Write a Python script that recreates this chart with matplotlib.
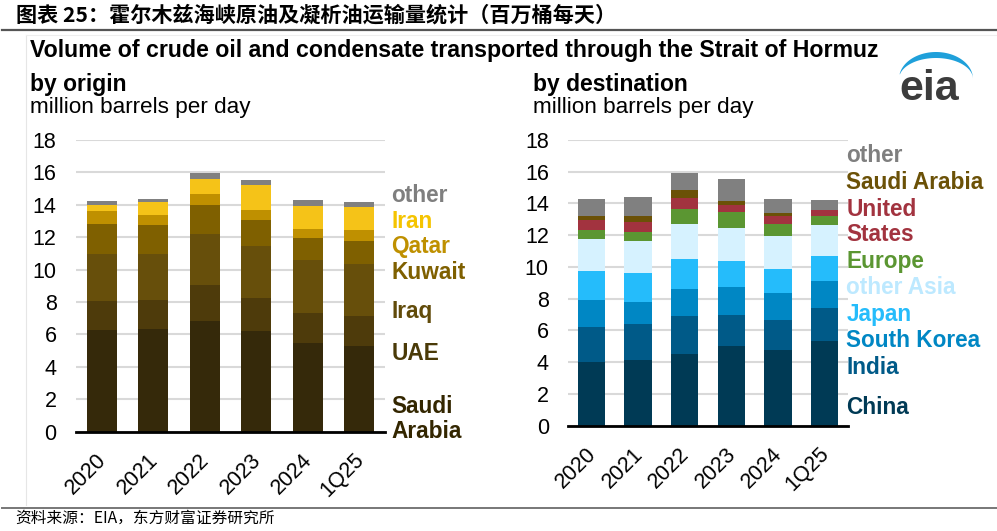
import numpy as np
import matplotlib
matplotlib.use("Agg")
import matplotlib.pyplot as plt
from matplotlib.patches import Polygon
from matplotlib.lines import Line2D
import matplotlib.transforms as mtransforms

plt.rcParams['font.family'] = ['Liberation Sans', 'DejaVu Sans']

# ---------------- data ----------------
periods = ["2020", "2021", "2022", "2023", "2024", "1Q25"]

origin_names = ["Saudi Arabia", "UAE", "Iraq", "Kuwait", "Qatar", "Iran", "other"]
saudi_origin = [6.26, 6.32, 6.81, 6.19, 5.49, 5.29]
uae_origin = [1.81, 1.81, 2.22, 2.08, 1.86, 1.85]
iraq_origin = [2.92, 2.84, 3.17, 3.21, 3.25, 3.21]
kuwait_origin = [1.85, 1.77, 1.81, 1.59, 1.33, 1.44]
qatar_origin = [0.78, 0.63, 0.66, 0.63, 0.60, 0.64]
iran_origin = [0.35, 0.79, 0.95, 1.53, 1.40, 1.46]
other_origin = [0.29, 0.22, 0.33, 0.28, 0.39, 0.31]

dest_names = ["China", "India", "South Korea", "Japan", "other Asia", "Europe",
              "United States", "Saudi Arabia", "other"]
china_dest = [3.99, 4.14, 4.50, 5.00, 4.75, 5.34]
india_dest = [2.23, 2.29, 2.39, 1.95, 1.89, 2.08]
skorea_dest = [1.68, 1.39, 1.72, 1.77, 1.74, 1.70]
japan_dest = [1.87, 1.78, 1.92, 1.68, 1.52, 1.57]
otherasia_dest = [2.02, 2.06, 2.20, 2.06, 2.07, 1.96]
europe_dest = [0.56, 0.57, 0.90, 0.99, 0.72, 0.54]
us_dest = [0.63, 0.61, 0.70, 0.48, 0.50, 0.38]
saudi_dest = [0.23, 0.40, 0.50, 0.25, 0.21, 0.02]
other_dest = [1.05, 1.15, 1.12, 1.35, 0.89, 0.61]

origin_series = [saudi_origin, uae_origin, iraq_origin, kuwait_origin,
                 qatar_origin, iran_origin, other_origin]
dest_series = [china_dest, india_dest, skorea_dest, japan_dest, otherasia_dest,
               europe_dest, us_dest, saudi_dest, other_dest]

origin_colors = ["#35290A", "#4E3B0B", "#674F0B", "#7F6000", "#BF9000", "#F5C318", "#808080"]
dest_colors = ["#003A55", "#005A88", "#0087C4", "#25BCFB", "#D6F2FF", "#5B9632",
               "#A2333F", "#6B5107", "#808080"]

# ---------------- figure ----------------
W, H = 997, 531
fig = plt.figure(figsize=(W / 100, H / 100), dpi=100)
fig.patch.set_facecolor("white")


def fx(px):
    return px / W


def fy(py):
    return 1 - py / H


# Chinese header and rules
fig.text(fx(16), fy(15), "图表 25：霍尔木兹海峡原油及凝析油运输量统计（百万桶每天）",
         fontsize=15.2, fontweight="bold", va="center", ha="left",
         family=["Noto Sans CJK SC", "DejaVu Sans"], color="black")
fig.add_artist(Line2D([fx(2), fx(997)], [fy(30), fy(30)], color="#555555", lw=1.6))
fig.add_artist(Line2D([fx(2), fx(997)], [fy(507.5), fy(507.5)], color="#777777", lw=1.4))
fig.add_artist(Line2D([fx(26), fx(26)], [fy(35), fy(505)], color="#E6E6E6", lw=0.8))
fig.add_artist(Line2D([fx(26), fx(997)], [fy(35), fy(35)], color="#EEEEEE", lw=0.8))
fig.text(fx(15), fy(518), "资料来源：EIA，东方财富证券研究所", fontsize=11.3,
         va="center", ha="left", family=["Noto Sans CJK SC", "DejaVu Sans"], color="black")

# English titles
fig.text(fx(30), fy(57), "Volume of crude oil and condensate transported through the Strait of Hormuz",
         fontsize=16.65, fontweight="bold", va="baseline", ha="left")
fig.text(fx(30), fy(91), "by origin", fontsize=16.5, fontweight="bold", va="baseline", ha="left")
fig.text(fx(30), fy(113.5), "million barrels per day", fontsize=16.2, va="baseline", ha="left")
fig.text(fx(533), fy(91), "by destination", fontsize=16.5, fontweight="bold", va="baseline", ha="left")
fig.text(fx(533), fy(113.5), "million barrels per day", fontsize=16.2, va="baseline", ha="left")

# eia logo
fig.text(fx(899), fy(100), "eia", fontsize=31, color="#3C3C3C", va="baseline", ha="left",
         fontweight="bold")
cx, cy = 936, 79
ang = np.linspace(np.deg2rad(192), np.deg2rad(362), 60)
ox = cx + 37 * np.cos(ang)
oy = cy + 27 * np.sin(ang)
ix = cx + 37 * np.cos(ang[::-1])
iy = cy + 21 * np.sin(ang[::-1])
pts = np.column_stack([np.concatenate([ox, ix]), np.concatenate([oy, iy])])
pts_fig = np.column_stack([pts[:, 0] / W, 1 - pts[:, 1] / H])
fig.add_artist(Polygon(pts_fig, closed=True, transform=fig.transFigure,
                       facecolor="#1FA0DA", edgecolor="none"))


def style_axes(ax):
    ax.set_ylim(0, 18)
    ax.set_xlim(-0.5, len(periods) - 0.5)
    ax.set_yticks(range(0, 19, 2))
    ax.yaxis.grid(True, color="#D9D9D9", lw=1.5)
    ax.set_axisbelow(True)
    for s in ["left", "right", "top"]:
        ax.spines[s].set_visible(False)
    ax.spines["bottom"].set_color("black")
    ax.spines["bottom"].set_linewidth(2.0)
    ax.tick_params(axis="both", length=0, labelsize=15.5)
    ax.tick_params(axis="y", pad=14)
    ax.set_xticks(range(len(periods)))
    ax.set_xticklabels(periods, rotation=45, ha="right", va="top", rotation_mode="anchor")
    offset = mtransforms.ScaledTranslation(-6 / 100, -13 / 100, fig.dpi_scale_trans)
    for lab in ax.get_xticklabels():
        lab.set_transform(lab.get_transform() + offset)


x = np.arange(len(periods))

# ---------- left: by origin ----------
ax1 = fig.add_axes([fx(76), fy(431.7), fx(385) - fx(76), fy(140) - fy(431.7)])
bottom = np.zeros(len(periods))
for vals, col in zip(origin_series, origin_colors):
    ax1.bar(x, vals, width=0.58, bottom=bottom, color=col, edgecolor="none", zorder=2)
    bottom += np.array(vals)
style_axes(ax1)

origin_label_y = [0.78, 4.85, 7.4, 9.8, 11.4, 13.0, 14.6]
origin_label_text = ["Saudi\nArabia", "UAE", "Iraq", "Kuwait", "Qatar", "Iran", "other"]
origin_label_colors = ["#332600", "#4A3A08", "#614B0A", "#7F6000", "#BF9000", "#F5C400", "#7F7F7F"]
tr1 = mtransforms.blended_transform_factory(ax1.transAxes, ax1.transData)
for txt, yv, c in zip(origin_label_text, origin_label_y, origin_label_colors):
    ax1.text(1.02, yv, txt, transform=tr1, fontsize=16.3, fontweight="bold", color=c,
             va="center", ha="left", linespacing=1.12, clip_on=False)

# ---------- right: by destination ----------
ax2 = fig.add_axes([fx(568.3), fy(425.7), fx(847.7) - fx(568.3), fy(140) - fy(425.7)])
bottom = np.zeros(len(periods))
for vals, col in zip(dest_series, dest_colors):
    ax2.bar(x, vals, width=0.59, bottom=bottom, color=col, edgecolor="none", zorder=2)
    bottom += np.array(vals)
style_axes(ax2)

dest_label_y = [1.16, 3.68, 5.35, 7.0, 8.68, 10.33, 12.83, 15.35, 17.0]
dest_label_text = ["China", "India", "South Korea", "Japan", "other Asia", "Europe",
                   "United\nStates", "Saudi Arabia", "other"]
dest_label_colors = ["#003A55", "#005A88", "#0087C4", "#25BCFB", "#BDE9FF", "#5B9632",
                     "#A2333F", "#6B5107", "#7F7F7F"]
tr2 = mtransforms.blended_transform_factory(ax2.transAxes, ax2.transData)
for txt, yv, c in zip(dest_label_text, dest_label_y, dest_label_colors):
    ax2.text(0.995, yv, txt, transform=tr2, fontsize=16.3, fontweight="bold", color=c,
             va="center", ha="left", linespacing=1.12, clip_on=False)

fig.savefig("out.png", dpi=100, facecolor="white")
